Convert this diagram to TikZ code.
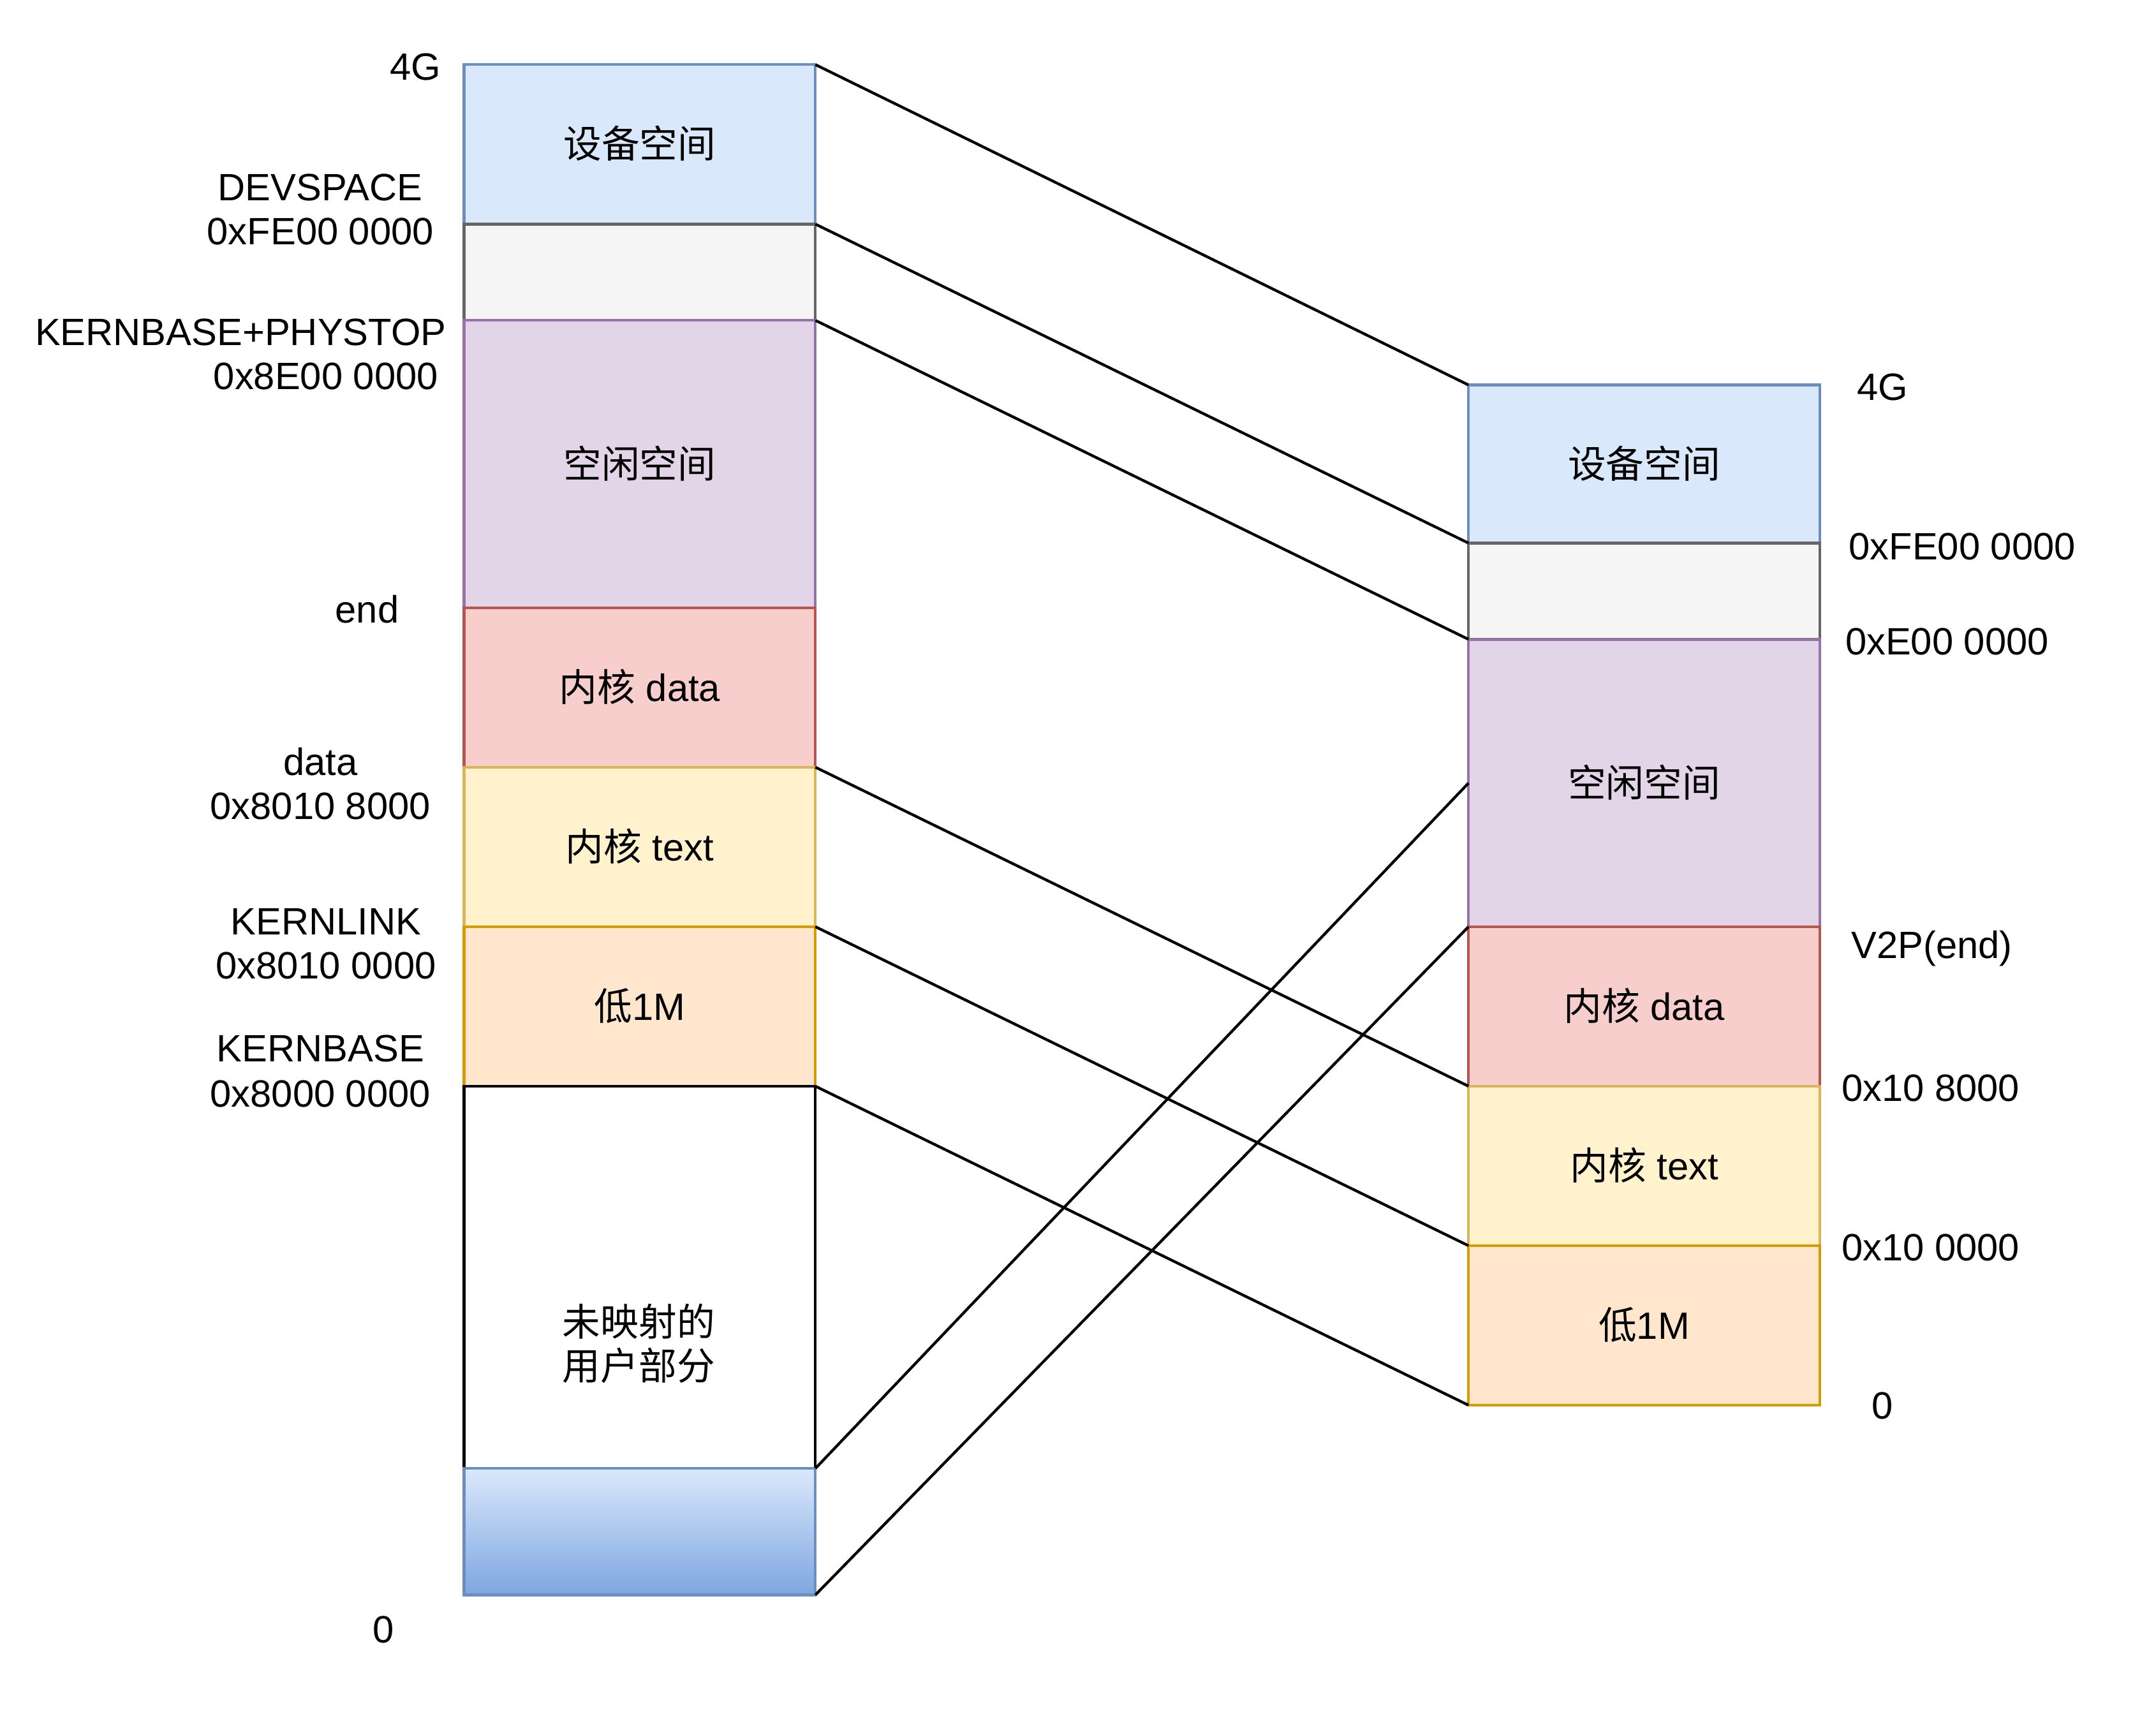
\documentclass[tikz,border=0pt]{standalone}
\usepackage{fontspec}
\setmainfont{Liberation Sans}
\newfontfamily\cjk{Noto Sans CJK SC}
\definecolor{blueF}{HTML}{DAE8FC}\definecolor{blueS}{HTML}{6C8EBF}
\definecolor{greyF}{HTML}{F5F5F5}\definecolor{greyS}{HTML}{666666}
\definecolor{purF}{HTML}{E1D5E7}\definecolor{purS}{HTML}{9673A6}
\definecolor{redF}{HTML}{F8CECC}\definecolor{redS}{HTML}{B85450}
\definecolor{yelF}{HTML}{FFF2CC}\definecolor{yelS}{HTML}{D6B656}
\definecolor{orF}{HTML}{FFE6CC}\definecolor{orS}{HTML}{D79B00}
\definecolor{gradB}{HTML}{7EA6E0}
\begin{document}
\begin{tikzpicture}[x=1pt,y=-1pt,
  every node/.style={font=\fontsize{27.7}{33}\selectfont},
  mem/.style={draw,line width=2pt,minimum width=255.5pt,inner sep=0pt,outer sep=0pt,anchor=north west,
    text height=20pt,text depth=0pt},
  lbl/.style={inner sep=0pt,text height=20pt,text depth=0pt},
  conn/.style={line width=2pt,black}]
\useasboundingbox (0,0) rectangle (1568,1255);
% left column
\node[mem,fill=blueF,draw=blueS,minimum height=116pt] (L1) at (337.5,47) {{\cjk 设备空间}};
\node[mem,fill=greyF,draw=greyS,minimum height=70pt] (L2) at (337.5,163) {};
\node[mem,fill=purF,draw=purS,minimum height=209pt] (L3) at (337.5,233) {{\cjk 空闲空间}};
\node[mem,fill=redF,draw=redS,minimum height=116pt] (L4) at (337.5,442) {{\cjk 内核} data};
\node[mem,fill=yelF,draw=yelS,minimum height=116pt] (L5) at (337.5,558) {{\cjk 内核} text};
\node[mem,fill=orF,draw=orS,minimum height=116pt] (L6) at (337.5,674) {{\cjk 低}1M};
\node[mem,fill=white,draw=black,minimum height=370pt] (L7) at (337.5,790) {};
\node[mem,top color=blueF,bottom color=gradB,draw=blueS,minimum height=92pt] (L8) at (337.5,1068) {};
\node[align=center,inner sep=0pt,font=\fontsize{27.7}{32}\selectfont\cjk] (L7t) at (464.5,977) {未映射的\\用户部分};
% right column
\node[mem,fill=blueF,draw=blueS,minimum height=115pt] (R1) at (1068,280) {{\cjk 设备空间}};
\node[mem,fill=greyF,draw=greyS,minimum height=70pt] (R2) at (1068,395) {};
\node[mem,fill=purF,draw=purS,minimum height=209pt] (R3) at (1068,465) {{\cjk 空闲空间}};
\node[mem,fill=redF,draw=redS,minimum height=116pt] (R4) at (1068,674) {{\cjk 内核} data};
\node[mem,fill=yelF,draw=yelS,minimum height=116pt] (R5) at (1068,790) {{\cjk 内核} text};
\node[mem,fill=orF,draw=orS,minimum height=116pt] (R6) at (1068,906) {{\cjk 低}1M};
% connectors
\draw[conn] (L1.north east) -- (R1.north west);
\draw[conn] (L2.north east) -- (R2.north west);
\draw[conn] (L3.north east) -- (R3.north west);
\draw[conn] (L5.north east) -- (R5.north west);
\draw[conn] (L6.north east) -- (R6.north west);
\draw[conn] (L6.south east) -- (R6.south west);
\draw[conn] (L8.north east) -- (R3.west);
\draw[conn] (L8.south east) -- (R4.north west);
% left labels
\node[lbl] (a1) at (302,48) {4G};
\node[lbl] (a2) at (233,136) {DEVSPACE};
\node[lbl] (a3) at (233,168) {0xFE00 0000};
\node[lbl] (a4) at (175,241) {KERNBASE+PHYSTOP};
\node[lbl] (a5) at (237,273) {0x8E00 0000};
\node[lbl] (a6) at (267,443) {end};
\node[lbl] (a7) at (233,554) {data};
\node[lbl] (a8) at (233,586) {0x8010 8000};
\node[lbl] (a9) at (237,670) {KERNLINK};
\node[lbl] (a10) at (237,702) {0x8010 0000};
\node[lbl] (a11) at (233,762) {KERNBASE};
\node[lbl] (a12) at (233,795) {0x8000 0000};
\node[lbl] (a13) at (279,1185) {0};
% right labels
\node[lbl] (b1) at (1369,281) {4G};
\node[lbl] (b2) at (1427,397) {0xFE00 0000};
\node[lbl] (b3) at (1416,466) {0xE00 0000};
\node[lbl] (b4) at (1405,687) {V2P(end)};
\node[lbl] (b5) at (1404,791) {0x10 8000};
\node[lbl] (b6) at (1404,907) {0x10 0000};
\node[lbl] (b7) at (1369,1022) {0};
\end{tikzpicture}
\end{document}
